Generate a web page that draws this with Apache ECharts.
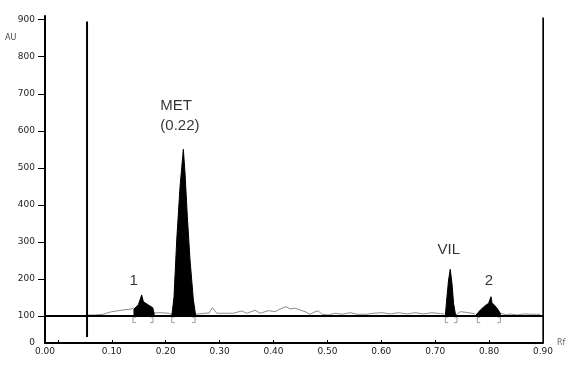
<!DOCTYPE html>
<html><head><meta charset="utf-8">
<script src="https://cdn.jsdelivr.net/npm/echarts@6/dist/echarts.min.js"></script>
<style>html,body{margin:0;padding:0;background:#fff}#c{width:584px;height:369px}</style>
</head><body><div id="c"></div><script>
// ---- axis ticks ----
const rfTickValues = [-0.024, 0.1, 0.2, 0.3, 0.4, 0.5, 0.6, 0.7, 0.8, 0.9];
const rfTickLabels = ['0.00', '0.10', '0.20', '0.30', '0.40', '0.50', '0.60', '0.70', '0.80', '0.90'];
const rfMinorTicks = [0, 0.1, 0.2, 0.3, 0.4, 0.5, 0.6, 0.7, 0.8, 0.9];
const auTickValues = [27, 100, 200, 300, 400, 500, 600, 700, 800, 900];
const auTickLabels = ['0', '100', '200', '300', '400', '500', '600', '700', '800', '900'];

// ---- baseline noise trace (null = break at an integrated peak) ----
const traceRf = [0.0557, 0.0687, 0.0836, 0.0997, 0.1090, 0.1213, 0.1337, 0.1398, null,
  0.1783, 0.1894, 0.2048, 0.2098, null,
  0.2557, 0.2730, 0.2804, 0.2865, 0.2947, 0.3101, 0.3255, 0.3411, 0.3504, 0.3658,
  0.3751, 0.3905, 0.4030, 0.4123, 0.4234, 0.4308, 0.4401, 0.4494, 0.4587, 0.4680,
  0.4773, 0.4834, 0.4897, 0.5019, 0.5144, 0.5268, 0.5422, 0.5547, 0.5733, 0.5855,
  0.6011, 0.6165, 0.6319, 0.6475, 0.6630, 0.6784, 0.6940, 0.7094, 0.7168, null,
  0.7409, 0.7465, 0.7558, 0.7682, 0.7744, null,
  0.8208, 0.8332, 0.8393, 0.8518, 0.8641, 0.8797, 0.8951];
const traceAU = [102.7, 102.7, 104.6, 111.6, 113.5, 116.2, 118.1, 120.8, null,
  108.1, 108.9, 107.3, 105.4, null,
  104.6, 107.3, 108.1, 122.4, 107.3, 107.3, 107.3, 113.5, 107.3, 115.4,
  107.3, 114.3, 111.6, 118.9, 125.1, 118.9, 120.8, 116.2, 111.6, 104.6,
  111.6, 113.5, 104.6, 102.7, 107.3, 104.6, 108.9, 104.6, 104.6, 107.3,
  108.9, 105.4, 108.9, 105.4, 108.9, 105.4, 108.9, 106.2, 105.4, null,
  105.4, 111.6, 110.0, 107.3, 105.4, null,
  107.3, 102.7, 105.4, 102.7, 105.4, 104.6, 104.6];

// ---- integrated peaks ----
const peak1Rf = [0.1411, 0.1411, 0.1491, 0.1523, 0.1554, 0.1585, 0.1616, 0.1677, 0.1759, 0.1783, 0.1783];
const peak1AU = [100, 118.9, 129.7, 143.2, 156.8, 138.6, 134.3, 129.7, 122.4, 108.1, 100];
const metRf = [0.2111, 0.2126, 0.2154, 0.2204, 0.2266, 0.2327, 0.2358, 0.2401, 0.2451, 0.2513, 0.2557];
const metAU = [100, 116, 152, 305, 450, 550, 486, 368, 251, 143, 100];
const vilRf = [0.7187, 0.7218, 0.7248, 0.7279, 0.7311, 0.7341, 0.7372, 0.7404];
const vilAU = [100, 152, 197, 226, 188, 134, 107, 100];
const peak2Rf = [0.7744, 0.7744, 0.7837, 0.7929, 0.7991, 0.8016, 0.8035, 0.8054, 0.8083, 0.8147, 0.8208, 0.8208];
const peak2AU = [100, 105, 116, 128, 134, 136, 152, 136, 134, 121, 107, 100];
const peakNames = ['1', 'MET\n(0.22)', 'VIL', '2'];

// integration bracket limits
const peakStartRf = [0.1393, 0.2111, 0.7187, 0.7781];
const peakEndRf = [0.1764, 0.2544, 0.7404, 0.8208];

// start / front marker lines and baseline
const markerRf = [0.054, 0.9006];
const markerTopAU = [895, 906];
const markerBottomAU = [43, 27];
const baselineRf = [-0.024, 0.9563];
const baselineAU = 100;

// ---------------------------------------------------------------
const zip = (a, b) => a.map((v, i) => [v, b[i]]);
function segments(rf, au) {
  const out = []; let cur = [];
  rf.forEach((r, i) => {
    if (r === null) { if (cur.length) out.push(cur); cur = []; }
    else cur.push([r, au[i]]);
  });
  if (cur.length) out.push(cur);
  return out;
}
const series = [];
segments(traceRf, traceAU).forEach(seg => series.push({
  type: 'line', data: seg, symbol: 'none', silent: true, z: 2,
  lineStyle: { color: '#8c8c8c', width: 1 }
}));
const peaks = [[peak1Rf, peak1AU], [metRf, metAU], [vilRf, vilAU], [peak2Rf, peak2AU]];
peaks.forEach(([r, a]) => series.push({
  type: 'line', data: zip(r, a), symbol: 'none', silent: true, z: 3,
  lineStyle: { color: '#000', width: 1 },
  areaStyle: { color: '#000', opacity: 1, origin: baselineAU }
}));
// baseline
series.push({
  type: 'line', data: baselineRf.map(r => [r, baselineAU]), symbol: 'none', silent: true, clip: false, z: 4,
  lineStyle: { color: '#000', width: 2 }
});
// marker lines
markerRf.forEach((r, i) => series.push({
  type: 'line', data: [[r, markerBottomAU[i]], [r, markerTopAU[i]]], symbol: 'none', silent: true, clip: false, z: 4,
  lineStyle: { color: '#000', width: 2 }
}));
// integration brackets
const bw = 0.0055, bTop = 97, bBot = 82;
peakStartRf.forEach((s, i) => {
  const e = peakEndRf[i];
  series.push({ type: 'line', data: [[s + bw, bTop], [s, bTop], [s, bBot], [s + bw, bBot]], symbol: 'none', silent: true, z: 2,
    lineStyle: { color: '#999', width: 1 } });
  series.push({ type: 'line', data: [[e - bw, bTop], [e, bTop], [e, bBot], [e - bw, bBot]], symbol: 'none', silent: true, z: 2,
    lineStyle: { color: '#999', width: 1 } });
});
// peak labels anchored at apex of each peak
const labelOffsets = [[-8, -14], [-23, -33], [-1.5, -19], [-2, -16]];
series.push({
  type: 'scatter', symbol: 'circle', symbolSize: 2, silent: true, z: 5, clip: false,
  itemStyle: { color: 'rgba(0,0,0,0)' },
  data: peaks.map(([r, a], i) => {
    let k = 0; a.forEach((v, j) => { if (v > a[k]) k = j; });
    return {
      value: [r[k], a[k]],
      label: {
        show: true, position: 'inside', formatter: peakNames[i],
        offset: labelOffsets[i], color: '#000', fontSize: 15, lineHeight: 20,
        fontFamily: 'Liberation Sans',
        align: i === 1 ? 'left' : 'center', verticalAlign: 'middle'
      }
    };
  })
});

const chart = echarts.init(document.getElementById('c'), null, { renderer: 'canvas' });
chart.setOption({
  animation: false,
  backgroundColor: '#fff',
  grid: { left: 45, right: 41, top: 16, bottom: 26, containLabel: false },
  xAxis: {
    type: 'value', min: rfTickValues[0], max: 0.9,
    name: 'Rf', nameLocation: 'end', nameGap: 14,
    nameTextStyle: { fontSize: 8, color: '#666', fontFamily: 'DejaVu Sans', padding: [0, 0, 4, 0] },
    axisLine: { show: true, onZero: false, lineStyle: { color: '#000', width: 2 } },
    axisTick: { show: true, inside: true, length: 3, customValues: rfMinorTicks, lineStyle: { color: '#000' } },
    axisLabel: {
      customValues: rfTickValues, margin: 4, fontSize: 9, color: '#222', fontFamily: 'DejaVu Sans',
      formatter: v => { const i = rfTickValues.findIndex(t => Math.abs(t - v) < 1e-6); return i >= 0 ? rfTickLabels[i] : ''; }
    },
    splitLine: { show: false }
  },
  yAxis: {
    type: 'value', min: auTickValues[0], max: 910,
    axisLine: { show: true, onZero: false, lineStyle: { color: '#000', width: 2 } },
    axisTick: { show: true, length: 7, customValues: auTickValues.slice(1), lineStyle: { color: '#000' } },
    axisLabel: {
      customValues: auTickValues, margin: 10, fontSize: 9, color: '#222', fontFamily: 'DejaVu Sans',
      formatter: v => { const i = auTickValues.findIndex(t => Math.abs(t - v) < 1e-6); return i >= 0 ? auTickLabels[i] : ''; }
    },
    splitLine: { show: false }
  },
  graphic: [{ type: 'text', left: 5, top: 34, style: { text: 'AU', fontSize: 8, fill: '#444', fontFamily: 'DejaVu Sans' } }],
  series: series
});
</script></body></html>
